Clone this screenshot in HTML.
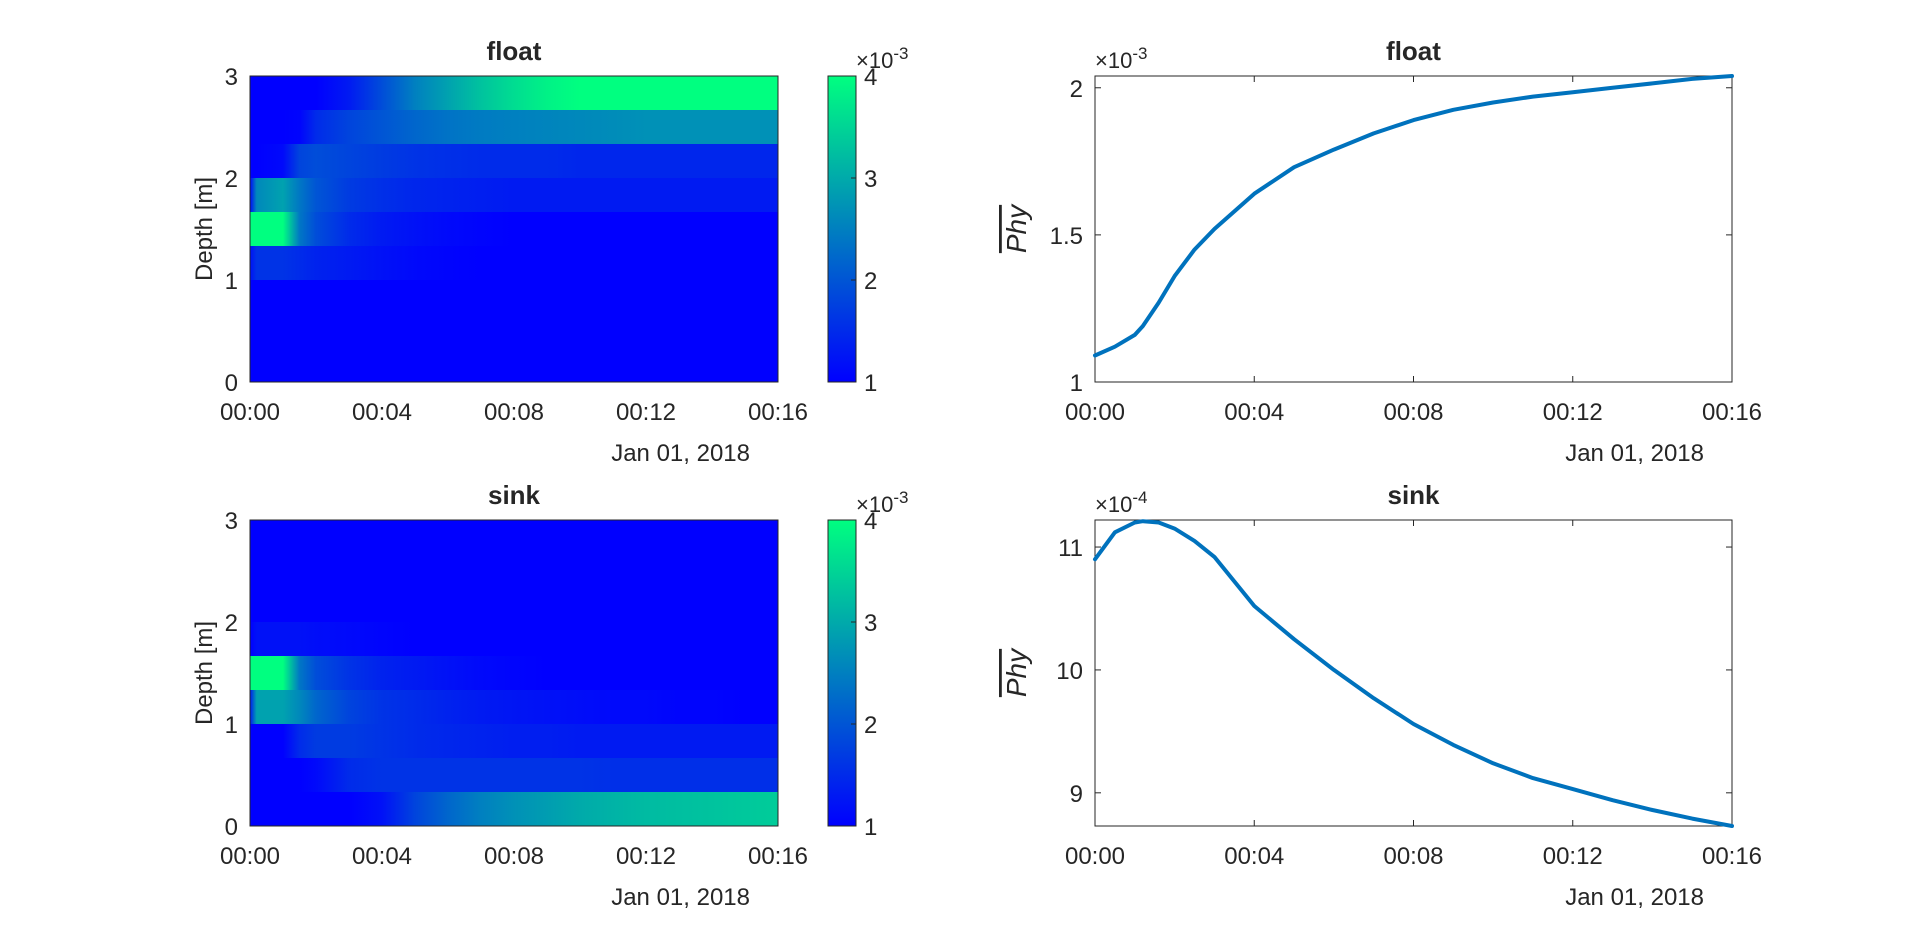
<!DOCTYPE html>
<html><head><meta charset="utf-8"><style>
body{margin:0;background:#fff;}
svg text{font-family:"Liberation Sans",sans-serif;fill:#262626;}
</style></head><body>
<svg id="fig" width="1920" height="936" xmlns="http://www.w3.org/2000/svg">
<defs id="defs"></defs>
</svg>
<script>
// ===== Data =====
const times = [0,0.2,1,1.5,2,3,4,5,6,7,8,9,10,11,12,13,14,15,16]; // minutes
const floatRows = [ // top (depth 3) to bottom (depth 0), x1e-3
[1,1,1,1,1,1.3,1.9,2.5,2.9,3.3,3.6,3.85,4,4,4,4,4,4,4],
[1,1,1,1.05,1.5,1.8,2.0,2.2,2.35,2.45,2.5,2.55,2.6,2.65,2.7,2.7,2.7,2.7,2.7],
[1,1,1.1,1.8,1.9,1.8,1.7,1.6,1.55,1.5,1.5,1.5,1.45,1.45,1.45,1.45,1.45,1.45,1.45],
[1.1,2.6,2.9,2.4,2.0,1.7,1.55,1.45,1.4,1.35,1.3,1.3,1.3,1.3,1.3,1.3,1.3,1.3,1.3],
[4,4,4,2.4,1.9,1.5,1.3,1.2,1.1,1.05,1,1,1,1,1,1,1,1,1],
[1.2,1.6,1.6,1.5,1.4,1.3,1.2,1.1,1.05,1,1,1,1,1,1,1,1,1,1],
[1,1,1,1,1,1,1,1,1,1,1,1,1,1,1,1,1,1,1],
[1,1,1,1,1,1,1,1,1,1,1,1,1,1,1,1,1,1,1],
[1,1,1,1,1,1,1,1,1,1,1,1,1,1,1,1,1,1,1]];
const sinkRows = [
[1,1,1,1,1,1,1,1,1,1,1,1,1,1,1,1,1,1,1],
[1,1,1,1,1,1,1,1,1,1,1,1,1,1,1,1,1,1,1],
[1,1,1,1,1,1,1,1,1,1,1,1,1,1,1,1,1,1,1],
[1,1.2,1.2,1.2,1.15,1.1,1.05,1,1,1,1,1,1,1,1,1,1,1,1],
[4,4,4,2.4,1.9,1.6,1.4,1.3,1.2,1.1,1.05,1,1,1,1,1,1,1,1],
[1.3,2.9,2.9,2.6,2.2,1.8,1.6,1.5,1.4,1.3,1.25,1.2,1.15,1.1,1.1,1.05,1.05,1,1],
[1,1,1,1.5,1.7,1.7,1.6,1.5,1.45,1.4,1.35,1.35,1.3,1.3,1.3,1.3,1.3,1.3,1.3],
[1,1,1,1,1.1,1.5,1.6,1.6,1.6,1.6,1.6,1.6,1.6,1.55,1.55,1.55,1.55,1.55,1.55],
[1,1,1,1,1,1,1.2,1.8,2.2,2.5,2.7,2.85,3.0,3.1,3.2,3.25,3.3,3.35,3.4]];
const lineTimes = [0,0.5,1,1.2,1.6,2,2.5,3,4,5,6,7,8,9,10,11,12,13,14,15,16];
const floatMean = [1.09,1.12,1.16,1.19,1.27,1.36,1.45,1.52,1.64,1.73,1.79,1.845,1.89,1.925,1.95,1.97,1.985,2.0,2.015,2.03,2.04];
const sinkMean = [10.9,11.12,11.2,11.21,11.2,11.15,11.05,10.92,10.52,10.25,10.0,9.77,9.56,9.39,9.24,9.12,9.03,8.94,8.86,8.79,8.73];
const xTickLabels = ["00:00","00:04","00:08","00:12","00:16"];
const xTickVals = [0,4,8,12,16];
const depthTicks = [0,1,2,3];
const cbTicks = [1,2,3,4];
const floatYTicks = [1,1.5,2];
const sinkYTicks = [9,10,11];

// ===== Helpers =====
const NS="http://www.w3.org/2000/svg";
const svg=document.getElementById('fig');
const defs=document.getElementById('defs');
function mk(tag,attrs,parent){const e=document.createElementNS(NS,tag);for(const k in attrs)e.setAttribute(k,attrs[k]);(parent||svg).appendChild(e);return e;}
function cmap(v){let t=(v-1)/3;t=Math.max(0,Math.min(1,t));return `rgb(0,${Math.round(255*t)},${Math.round(255-127*t)})`;}
function txt(x,y,s,opt,name){const e=mk('text',Object.assign({x:x,y:y,'font-size':24},opt||{}));e.textContent=s;


return e;}

const L={x0:250,x1:778,cb0:828,cb1:856,r0:1095,r1:1732};
const rows=[{y0:76,y1:382},{y0:520,y1:826}];
function xh(t){return L.x0+(t/16)*(L.x1-L.x0);}
function xr(t){return L.r0+(t/16)*(L.r1-L.r0);}

function heatmap(data,row,title,id){
  const g=mk('g',{});
  
  
  const n=data.length,h=(row.y1-row.y0)/n;
  data.forEach((vals,i)=>{
    const gid=id+'g'+i;
    const lg=mk('linearGradient',{id:gid,x1:0,x2:1,y1:0,y2:0},defs);
    vals.forEach((v,j)=>mk('stop',{offset:(times[j]/16),'stop-color':cmap(v)},lg));
    const r=mk('rect',{x:L.x0,y:row.y0+i*h,width:L.x1-L.x0,height:h+0.5,fill:`url(#${gid})`},g);
    
    
  });
  const bx=mk('rect',{x:L.x0,y:row.y0,width:L.x1-L.x0,height:row.y1-row.y0,fill:'none',stroke:'#262626','stroke-width':1});
  
  
  depthTicks.forEach(d=>{const y=row.y1-d/3*(row.y1-row.y0);txt(238,y+9,String(d),{'text-anchor':'end'},'y-tick-label');});
  xTickVals.forEach((t,k)=>txt(xh(t),420+row.y0-76,xTickLabels[k],{'text-anchor':'middle'},'x-tick-label'));
  txt(L.x1-28,461+row.y0-76,'Jan 01, 2018',{'text-anchor':'end'},'date-label');
  txt((L.x0+L.x1)/2,60+row.y0-76,title,{'text-anchor':'middle','font-weight':'bold','font-size':26,fill:'#000'},'heatmap-title');
  const yl=txt(0,0,'Depth [m]',{'text-anchor':'middle',transform:`translate(212,${(row.y0+row.y1)/2}) rotate(-90)`},'y-axis-title');
  // colorbar
  const cg=mk('linearGradient',{id:id+'cb',x1:0,x2:0,y1:1,y2:0},defs);
  [1,4].forEach(v=>mk('stop',{offset:(v-1)/3,'stop-color':cmap(v)},cg));
  const cb=mk('rect',{x:L.cb0,y:row.y0,width:L.cb1-L.cb0,height:row.y1-row.y0,fill:`url(#${id}cb)`,stroke:'#262626','stroke-width':1});
  
  
  cbTicks.forEach(v=>{const y=row.y1-(v-1)/3*(row.y1-row.y0);
    mk('line',{x1:L.cb1-5,x2:L.cb1,y1:y,y2:y,stroke:'#262626'});
    txt(L.cb1+8,y+9,String(v),{},'colorbar-tick-label');});
  const ex=txt(L.cb0+28,row.y0-8,'',{'font-size':22},'colorbar-exponent');
  ex.innerHTML='×10<tspan dy="-9" font-size="17">-3</tspan>';
}

function lineplot(tv,vals,ymin,ymax,ticks,row,title,expo,name){
  const H=row.y1-row.y0;
  const yv=v=>row.y1-(v-ymin)/(ymax-ymin)*H;
  const bx=mk('rect',{x:L.r0,y:row.y0,width:L.r1-L.r0,height:H,fill:'none',stroke:'#262626','stroke-width':1});
  
  
  xTickVals.forEach((t,k)=>{const x=xr(t);
    mk('line',{x1:x,x2:x,y1:row.y1,y2:row.y1-6,stroke:'#262626'});
    mk('line',{x1:x,x2:x,y1:row.y0,y2:row.y0+6,stroke:'#262626'});
    txt(x,420+row.y0-76,xTickLabels[k],{'text-anchor':'middle'},'x-tick-label');});
  ticks.forEach(v=>{const y=yv(v);
    mk('line',{x1:L.r0,x2:L.r0+6,y1:y,y2:y,stroke:'#262626'});
    mk('line',{x1:L.r1,x2:L.r1-6,y1:y,y2:y,stroke:'#262626'});
    txt(L.r0-12,y+9,String(v),{'text-anchor':'end'},'y-tick-label');});
  txt(L.r1-28,461+row.y0-76,'Jan 01, 2018',{'text-anchor':'end'},'date-label');
  txt((L.r0+L.r1)/2,60+row.y0-76,title,{'text-anchor':'middle','font-weight':'bold','font-size':26,fill:'#000'},'plot-title');
  const ex=txt(L.r0,row.y0-8,'',{'font-size':22},'y-exponent');
  ex.innerHTML='×10<tspan dy="-9" font-size="17">'+expo+'</tspan>';
  const yl=txt(0,0,'Phy',{'text-anchor':'middle','font-family':'Liberation Serif','font-style':'italic','font-size':28,'text-decoration':'overline',transform:`translate(1026,${(row.y0+row.y1)/2}) rotate(-90)`},'y-axis-title');
  yl.setAttribute('font-family','"Liberation Serif",serif');
  mk('line',{x1:1000,x2:1000,y1:(row.y0+row.y1)/2-24,y2:(row.y0+row.y1)/2+24,stroke:'#262626','stroke-width':1.5});
  const d=tv.map((t,i)=>(i?'L':'M')+xr(t).toFixed(1)+','+yv(vals[i]).toFixed(1)).join(' ');
  const p=mk('path',{d:d,fill:'none',stroke:'#0072BD','stroke-width':4,'stroke-linejoin':'round','stroke-linecap':'round'});
  
  
}

heatmap(floatRows,rows[0],'float','f');
heatmap(sinkRows,rows[1],'sink','s');
lineplot(lineTimes,floatMean,1,2.04,floatYTicks,rows[0],'float','-3','float-mean');
lineplot(lineTimes,sinkMean,8.73,11.22,sinkYTicks,rows[1],'sink','-4','sink-mean');
</script>
</body></html>
